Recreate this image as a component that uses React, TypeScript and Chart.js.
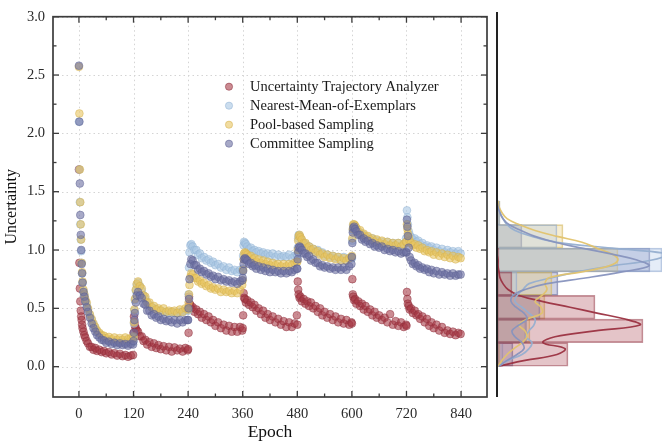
import React, { useEffect, useRef } from 'react';
import { Chart, registerables } from 'chart.js';
Chart.register(...registerables);

// ---------- data ----------
const epochs = [
  0, 1, 2, 3, 4, 5, 6, 7, 8, 10, 12, 14, 17, 20, 24, 28, 32, 36, 40, 45, 50, 55, 60, 66, 72, 78, 84, 90, 96, 102, 108, 114, 119,
  120, 121, 122, 123, 125, 127, 130, 134, 138, 142, 146, 150, 155, 160, 165, 170, 175, 180, 186, 192, 198, 204, 210, 216, 222, 228, 234, 239,
  240, 241, 242, 243, 245, 247, 250, 254, 258, 262, 266, 270, 275, 280, 285, 290, 295, 300, 306, 312, 318, 324, 330, 336, 342, 348, 354, 359,
  360, 361, 362, 363, 365, 367, 370, 374, 378, 382, 386, 390, 395, 400, 405, 410, 415, 420, 426, 432, 438, 444, 450, 456, 462, 468, 474, 479,
  480, 481, 482, 483, 485, 487, 490, 494, 498, 502, 506, 510, 515, 520, 525, 530, 535, 540, 546, 552, 558, 564, 570, 576, 582, 588, 594, 599,
  600, 601, 602, 603, 605, 607, 610, 614, 618, 622, 626, 630, 635, 640, 645, 650, 655, 660, 666, 672, 678, 684, 690, 696, 702, 708, 714, 719,
  720, 721, 722, 723, 725, 727, 730, 734, 738, 742, 746, 750, 755, 760, 765, 770, 775, 780, 786, 792, 798, 804, 810, 816, 822, 828, 834, 839,
];

const utaValues = [
  1.69, 0.89, 0.67, 0.56, 0.48, 0.43, 0.40, 0.36, 0.33, 0.30, 0.27, 0.25, 0.22, 0.20, 0.17, 0.17, 0.145, 0.16, 0.135, 0.145, 0.125, 0.135, 0.115, 0.125, 0.105, 0.115, 0.095, 0.11, 0.09, 0.10, 0.085, 0.095, 0.10,
  0.29, 0.43, 0.38, 0.35, 0.33, 0.31, 0.30, 0.26, 0.26, 0.22, 0.23, 0.19, 0.21, 0.17, 0.20, 0.16, 0.185, 0.15, 0.175, 0.14, 0.17, 0.13, 0.165, 0.14, 0.155, 0.13, 0.16, 0.14,
  0.15, 0.29, 0.60, 0.54, 0.53, 0.50, 0.51, 0.47, 0.49, 0.45, 0.47, 0.42, 0.45, 0.40, 0.43, 0.38, 0.40, 0.35, 0.38, 0.33, 0.36, 0.31, 0.35, 0.30, 0.34, 0.30, 0.34, 0.31,
  0.33, 0.44, 0.63, 0.59, 0.58, 0.55, 0.57, 0.53, 0.55, 0.51, 0.53, 0.48, 0.50, 0.45, 0.48, 0.42, 0.45, 0.40, 0.43, 0.38, 0.41, 0.36, 0.39, 0.34, 0.38, 0.34, 0.37, 0.44,
  0.36, 0.73, 0.66, 0.62, 0.59, 0.60, 0.56, 0.58, 0.54, 0.56, 0.52, 0.55, 0.50, 0.52, 0.47, 0.50, 0.44, 0.47, 0.42, 0.45, 0.40, 0.43, 0.38, 0.41, 0.37, 0.40, 0.36, 0.38,
  0.37, 0.75, 0.62, 0.60, 0.57, 0.58, 0.54, 0.56, 0.52, 0.54, 0.49, 0.52, 0.47, 0.49, 0.44, 0.47, 0.42, 0.44, 0.40, 0.42, 0.38, 0.45, 0.36, 0.39, 0.35, 0.38, 0.34, 0.36,
  0.35, 0.64, 0.58, 0.54, 0.52, 0.49, 0.50, 0.46, 0.48, 0.44, 0.45, 0.41, 0.43, 0.38, 0.41, 0.35, 0.38, 0.33, 0.36, 0.31, 0.34, 0.29, 0.31, 0.28, 0.30, 0.27, 0.29, 0.28,
];

const nmeValues = [
  2.10, 1.69, 1.41, 1.22, 1.09, 0.99, 0.89, 0.80, 0.72, 0.65, 0.61, 0.57, 0.53, 0.49, 0.44, 0.40, 0.36, 0.33, 0.30, 0.28, 0.26, 0.245, 0.235, 0.225, 0.22, 0.215, 0.21, 0.21, 0.21, 0.205, 0.21, 0.21, 0.21,
  0.25, 0.37, 0.48, 0.57, 0.65, 0.70, 0.72, 0.69, 0.65, 0.61, 0.58, 0.55, 0.53, 0.51, 0.50, 0.49, 0.48, 0.48, 0.47, 0.47, 0.46, 0.47, 0.46, 0.46, 0.47, 0.47, 0.48, 0.49,
  0.48, 0.62, 0.85, 0.98, 1.04, 1.05, 1.03, 1.00, 1.00, 0.96, 0.97, 0.93, 0.94, 0.91, 0.92, 0.89, 0.90, 0.87, 0.88, 0.85, 0.86, 0.83, 0.85, 0.82, 0.83, 0.81, 0.83, 0.82,
  0.84, 0.95, 1.04, 1.07, 1.06, 1.05, 1.03, 1.01, 1.02, 0.99, 1.00, 0.98, 0.99, 0.97, 0.98, 0.96, 0.97, 0.95, 0.97, 0.94, 0.96, 0.94, 0.95, 0.94, 0.96, 0.93, 0.95, 0.96,
  0.95, 1.02, 1.10, 1.13, 1.12, 1.10, 1.08, 1.05, 1.05, 1.02, 1.03, 1.00, 1.01, 0.99, 1.00, 0.97, 0.98, 0.95, 0.96, 0.94, 0.95, 0.93, 0.94, 0.92, 0.94, 0.91, 0.93, 0.93,
  0.93, 1.08, 1.17, 1.21, 1.21, 1.20, 1.18, 1.15, 1.15, 1.12, 1.13, 1.10, 1.11, 1.08, 1.10, 1.07, 1.08, 1.06, 1.07, 1.05, 1.07, 1.04, 1.06, 1.04, 1.06, 1.03, 1.05, 1.10,
  1.06, 1.34, 1.28, 1.22, 1.16, 1.13, 1.11, 1.09, 1.10, 1.07, 1.08, 1.05, 1.06, 1.03, 1.04, 1.02, 1.03, 1.00, 1.02, 0.99, 1.01, 0.98, 1.00, 0.98, 0.99, 0.97, 0.99, 0.97,
];

const poolValues = [
  2.57, 2.17, 1.69, 1.41, 1.22, 1.09, 0.89, 0.81, 0.73, 0.66, 0.62, 0.58, 0.55, 0.50, 0.45, 0.41, 0.37, 0.34, 0.31, 0.29, 0.27, 0.265, 0.245, 0.255, 0.235, 0.25, 0.23, 0.245, 0.23, 0.25, 0.235, 0.245, 0.24,
  0.26, 0.38, 0.49, 0.58, 0.66, 0.71, 0.73, 0.69, 0.67, 0.61, 0.60, 0.55, 0.55, 0.51, 0.52, 0.49, 0.50, 0.48, 0.50, 0.47, 0.48, 0.47, 0.48, 0.46, 0.49, 0.47, 0.50, 0.50,
  0.49, 0.55, 0.62, 0.70, 0.77, 0.80, 0.79, 0.76, 0.76, 0.73, 0.74, 0.71, 0.72, 0.69, 0.70, 0.67, 0.68, 0.66, 0.67, 0.64, 0.66, 0.64, 0.65, 0.63, 0.65, 0.63, 0.66, 0.70,
  0.74, 0.83, 0.92, 0.97, 0.98, 0.97, 0.96, 0.94, 0.95, 0.92, 0.93, 0.90, 0.92, 0.89, 0.91, 0.88, 0.90, 0.87, 0.89, 0.87, 0.88, 0.86, 0.88, 0.86, 0.88, 0.87, 0.89, 0.90,
  0.90, 1.00, 1.08, 1.12, 1.13, 1.11, 1.09, 1.06, 1.06, 1.02, 1.03, 1.00, 1.01, 0.98, 0.99, 0.96, 0.97, 0.94, 0.96, 0.93, 0.95, 0.92, 0.94, 0.91, 0.93, 0.91, 0.93, 0.94,
  0.95, 1.10, 1.18, 1.22, 1.22, 1.21, 1.19, 1.16, 1.17, 1.13, 1.14, 1.11, 1.12, 1.09, 1.10, 1.07, 1.09, 1.06, 1.08, 1.05, 1.07, 1.04, 1.06, 1.04, 1.06, 1.03, 1.05, 1.07,
  1.07, 1.22, 1.18, 1.14, 1.11, 1.08, 1.06, 1.04, 1.05, 1.02, 1.04, 1.01, 1.02, 0.99, 1.00, 0.98, 0.99, 0.96, 0.98, 0.95, 0.97, 0.94, 0.96, 0.93, 0.95, 0.92, 0.94, 0.93,
];

const committeeValues = [
  2.58, 2.10, 1.57, 1.30, 1.13, 1.00, 0.88, 0.80, 0.72, 0.64, 0.60, 0.56, 0.51, 0.47, 0.42, 0.37, 0.33, 0.30, 0.27, 0.25, 0.23, 0.225, 0.205, 0.215, 0.195, 0.205, 0.185, 0.20, 0.185, 0.195, 0.18, 0.195, 0.19,
  0.22, 0.29, 0.40, 0.46, 0.55, 0.61, 0.64, 0.61, 0.59, 0.54, 0.53, 0.48, 0.48, 0.44, 0.45, 0.42, 0.43, 0.40, 0.41, 0.39, 0.40, 0.38, 0.40, 0.37, 0.40, 0.38, 0.40, 0.40,
  0.40, 0.50, 0.58, 0.75, 0.88, 0.92, 0.91, 0.87, 0.87, 0.83, 0.84, 0.81, 0.82, 0.79, 0.80, 0.77, 0.78, 0.75, 0.77, 0.74, 0.75, 0.73, 0.74, 0.72, 0.73, 0.71, 0.73, 0.74,
  0.76, 0.82, 0.88, 0.92, 0.93, 0.92, 0.91, 0.88, 0.89, 0.86, 0.87, 0.84, 0.86, 0.83, 0.85, 0.82, 0.84, 0.81, 0.83, 0.81, 0.82, 0.80, 0.82, 0.80, 0.82, 0.81, 0.83, 0.84,
  0.84, 0.92, 0.98, 1.02, 1.03, 1.02, 1.00, 0.97, 0.97, 0.94, 0.95, 0.91, 0.92, 0.89, 0.89, 0.86, 0.87, 0.85, 0.86, 0.84, 0.85, 0.83, 0.85, 0.83, 0.85, 0.83, 0.86, 0.88,
  0.94, 1.06, 1.15, 1.19, 1.20, 1.18, 1.16, 1.13, 1.13, 1.09, 1.10, 1.07, 1.08, 1.05, 1.06, 1.03, 1.04, 1.02, 1.03, 1.00, 1.01, 0.99, 1.00, 0.98, 0.99, 0.97, 0.98, 0.98,
  0.98, 1.26, 1.20, 1.12, 1.02, 0.94, 0.91, 0.88, 0.89, 0.86, 0.87, 0.84, 0.85, 0.83, 0.84, 0.81, 0.83, 0.80, 0.82, 0.79, 0.81, 0.79, 0.80, 0.78, 0.80, 0.78, 0.79, 0.79,
];

const seriesLabels = [
  'Uncertainty Trajectory Analyzer',
  'Nearest-Mean-of-Exemplars',
  'Pool-based Sampling',
  'Committee Sampling',
];

const xTickValues = [0, 120, 240, 360, 480, 600, 720, 840];
const xMinorTicks = [60, 180, 300, 420, 540, 660, 780];
const yTickValues = [0, 0.5, 1.0, 1.5, 2.0, 2.5, 3.0];
const yMinorTicks = [0.25, 0.75, 1.25, 1.75, 2.25, 2.75];

// marginal histogram (bin centres, bin width 0.2) and KDE curves
const histBinCenters = [0.1, 0.3, 0.5, 0.7, 0.9, 1.1, 1.3];
const histUta = [71, 146, 98, 15, 2, 0, 0];
const histNme = [6, 30, 43, 20, 165, 60, 3];
const histPool = [3, 33, 48, 55, 121, 66, 3];
const histCommittee = [16, 29, 43, 61, 153, 25, 2];

const kdeLevels = [0, 0.05, 0.1, 0.15, 0.2, 0.25, 0.3, 0.35, 0.4, 0.45, 0.5, 0.55, 0.6, 0.65, 0.7, 0.75, 0.8, 0.85, 0.9, 0.95, 1.0, 1.05, 1.1, 1.15, 1.2, 1.25, 1.3, 1.35, 1.4];
const kdeUta = [1, 28, 60, 68, 46, 58, 98, 143, 128, 100, 73, 45, 22, 11, 6, 3, 2, 1, 1, 0, 0, 0, 0, 0, 0, 0, 0, 0, 0];
const kdeNme = [1, 11, 25, 32, 35, 29, 32, 37, 38, 32, 25, 18, 20, 26, 32, 55, 80, 115, 155, 170, 115, 60, 35, 18, 10, 6, 3, 2, 1];
const kdePool = [1, 5, 10, 17, 25, 30, 28, 22, 30, 45, 44, 38, 45, 50, 48, 52, 85, 112, 121, 115, 100, 85, 60, 38, 22, 10, 5, 2, 1];
const kdeCommittee = [2, 10, 20, 27, 25, 18, 15, 22, 30, 27, 19, 14, 16, 28, 50, 90, 125, 152, 140, 115, 85, 58, 38, 24, 12, 6, 3, 1, 0];

// ---------- styles ----------
const FONT = '"Liberation Serif", "Times New Roman", serif';
const pointFill = ['rgba(165,55,68,0.58)', 'rgba(168,198,226,0.6)', 'rgba(232,196,96,0.6)', 'rgba(108,112,162,0.6)'];
const pointEdge = ['rgba(140,45,58,0.65)', 'rgba(145,178,212,0.65)', 'rgba(212,176,78,0.65)', 'rgba(92,96,146,0.65)'];
const histFill = ['rgba(170,70,85,0.32)', 'rgba(175,200,232,0.32)', 'rgba(230,200,110,0.32)', 'rgba(110,115,170,0.32)'];
const histEdge = ['rgba(150,60,75,0.55)', 'rgba(140,165,205,0.6)', 'rgba(210,180,90,0.6)', 'rgba(100,105,155,0.6)'];
const kdeColor = ['rgba(155,50,65,0.95)', 'rgba(150,175,208,0.95)', 'rgba(225,195,110,0.95)', 'rgba(135,148,190,0.95)'];

const Y_MIN = -0.26;
const Y_MAX = 3.0;

function seg(ctx: CanvasRenderingContext2D, x1: number, y1: number, x2: number, y2: number) {
  ctx.beginPath();
  ctx.moveTo(x1, y1);
  ctx.lineTo(x2, y2);
  ctx.stroke();
}

const mainDecor = {
  id: 'mainDecor',
  beforeDatasetsDraw(chart: any) {
    const { ctx, chartArea: a, scales } = chart;
    const x = scales.x, y = scales.y;
    ctx.save();
    ctx.strokeStyle = '#d4d4d4';
    ctx.lineWidth = 1;
    ctx.setLineDash([1.5, 3]);
    xTickValues.forEach((v) => {
      const p = Math.round(x.getPixelForValue(v)) + 0.5;
      seg(ctx, p, a.top, p, a.bottom);
    });
    yTickValues.forEach((v) => {
      const p = Math.round(y.getPixelForValue(v)) + 0.5;
      seg(ctx, a.left, p, a.right, p);
    });
    ctx.restore();
  },
  afterDatasetsDraw(chart: any) {
    const { ctx, chartArea: a, scales } = chart;
    const x = scales.x, y = scales.y;
    ctx.save();
    ctx.setLineDash([]);
    ctx.strokeStyle = '#3c3c3c';
    ctx.lineWidth = 1.3;
    const maj = 6, mnr = 3.5;
    xTickValues.forEach((v) => {
      const p = x.getPixelForValue(v);
      seg(ctx, p, a.bottom, p, a.bottom - maj);
      seg(ctx, p, a.top, p, a.top + maj);
    });
    xMinorTicks.forEach((v) => {
      const p = x.getPixelForValue(v);
      seg(ctx, p, a.bottom, p, a.bottom - mnr);
      seg(ctx, p, a.top, p, a.top + mnr);
    });
    yTickValues.forEach((v) => {
      const p = y.getPixelForValue(v);
      seg(ctx, a.left, p, a.left + maj, p);
      seg(ctx, a.right, p, a.right - maj, p);
    });
    yMinorTicks.forEach((v) => {
      const p = y.getPixelForValue(v);
      seg(ctx, a.left, p, a.left + mnr, p);
      seg(ctx, a.right, p, a.right - mnr, p);
    });
    ctx.lineWidth = 1.7;
    ctx.strokeRect(a.left, a.top, a.right - a.left, a.bottom - a.top);

    // legend
    const lx = a.left + 176;
    const ly = a.top + 70;
    ctx.font = '14.5px ' + FONT;
    ctx.textBaseline = 'middle';
    ctx.textAlign = 'left';
    chart.data.datasets.forEach((ds: any, i: number) => {
      const cy = ly + i * 19;
      ctx.beginPath();
      ctx.arc(lx, cy, 3.6, 0, Math.PI * 2);
      ctx.fillStyle = ds.backgroundColor;
      ctx.fill();
      ctx.lineWidth = 0.8;
      ctx.strokeStyle = ds.borderColor;
      ctx.stroke();
      ctx.fillStyle = '#1a1a1a';
      ctx.fillText(ds.label, lx + 21, cy + 0.5);
    });
    ctx.restore();
  },
};

const sideDecor = {
  id: 'sideDecor',
  afterDraw(chart: any) {
    const { ctx, chartArea: a } = chart;
    ctx.save();
    ctx.strokeStyle = '#222';
    ctx.lineWidth = 2;
    seg(ctx, a.left, a.top, a.left, a.bottom);
    ctx.restore();
  },
};

function buildMain(canvas: HTMLCanvasElement) {
  const all = [utaValues, nmeValues, poolValues, committeeValues];
  const datasets = all.map((vals, i) => ({
    label: seriesLabels[i],
    data: epochs.map((e, k) => ({ x: e, y: vals[k] })),
    backgroundColor: pointFill[i],
    borderColor: pointEdge[i],
    borderWidth: 0.7,
    pointRadius: 3.9,
    pointHoverRadius: 3.9,
    order: 4 - i,
  }));
  return new Chart(canvas, {
    type: 'scatter',
    data: { datasets },
    options: {
      responsive: false,
      animation: false,
      events: [],
      layout: { padding: { left: 0, top: 12, right: 175, bottom: 0 } },
      plugins: { legend: { display: false }, tooltip: { enabled: false } },
      scales: {
        x: {
          type: 'linear',
          min: -57,
          max: 897,
          grid: { display: false, drawTicks: false },
          border: { display: false },
          afterBuildTicks: (s: any) => { s.ticks = xTickValues.map((v) => ({ value: v })); },
          afterFit: (s: any) => { s.height = 51; },
          ticks: { padding: 8, color: '#2a2a2a', font: { family: FONT, size: 14.5 }, maxRotation: 0, autoSkip: false },
          title: { display: true, text: 'Epoch', color: '#111', font: { family: FONT, size: 17.5 }, padding: { top: 0, bottom: 5 } },
        },
        y: {
          type: 'linear',
          min: Y_MIN,
          max: Y_MAX,
          grid: { display: false, drawTicks: false },
          border: { display: false },
          afterBuildTicks: (s: any) => { s.ticks = yTickValues.map((v) => ({ value: v })); },
          afterFit: (s: any) => { s.width = 53; },
          ticks: { padding: 8, color: '#2a2a2a', font: { family: FONT, size: 14.5 }, callback: (v: any) => Number(v).toFixed(1), autoSkip: false },
          title: { display: true, text: 'Uncertainty', color: '#111', font: { family: FONT, size: 16 }, padding: { top: 2, bottom: 0 } },
        },
      },
    },
    plugins: [mainDecor],
  } as any);
}

function buildSide(canvas: HTMLCanvasElement) {
  const hists = [histUta, histNme, histPool, histCommittee];
  const kdes = [kdeUta, kdeNme, kdePool, kdeCommittee];
  const barSets = hists.map((h, i) => ({
    type: 'bar',
    label: seriesLabels[i],
    data: histBinCenters.map((c, k) => ({ x: h[k], y: c })),
    backgroundColor: histFill[i],
    borderColor: histEdge[i],
    borderWidth: 1,
    borderSkipped: false,
    grouped: false,
    barPercentage: 1,
    categoryPercentage: 1,
    order: 10 + i,
  }));
  const lineSets = kdes.map((d, i) => ({
    type: 'line',
    label: seriesLabels[i] + ' KDE',
    data: kdeLevels.map((l, k) => ({ x: d[k], y: l })),
    borderColor: kdeColor[i],
    borderWidth: 1.7,
    pointRadius: 0,
    tension: 0.4,
    fill: false,
    indexAxis: 'y',
    order: 4 - i,
  }));
  return new Chart(canvas, {
    type: 'bar',
    data: { datasets: [...barSets, ...lineSets] as any },
    options: {
      indexAxis: 'y',
      responsive: false,
      animation: false,
      events: [],
      layout: { padding: { left: 497, right: 0, top: 12, bottom: 51 } },
      plugins: { legend: { display: false }, tooltip: { enabled: false } },
      scales: {
        x: { type: 'linear', display: false, min: 0, max: 165, offset: false },
        y: { type: 'linear', display: false, min: Y_MIN, max: Y_MAX, offset: false },
      },
    },
    plugins: [sideDecor],
  } as any);
}

export default function App() {
  const mainRef = useRef<HTMLCanvasElement>(null);
  const sideRef = useRef<HTMLCanvasElement>(null);
  useEffect(() => {
    if (!mainRef.current || !sideRef.current) return;
    const main = buildMain(mainRef.current);
    const side = buildSide(sideRef.current);
    return () => {
      main.destroy();
      side.destroy();
    };
  }, []);
  return (
    <div style={{ position: 'fixed', left: 0, top: 0, width: 662, height: 448, background: '#fff', overflow: 'hidden' }}>
      <canvas ref={mainRef} width={662} height={448} style={{ position: 'absolute', left: 0, top: 0 }} />
      <canvas ref={sideRef} width={662} height={448} style={{ position: 'absolute', left: 0, top: 0 }} />
    </div>
  );
}
